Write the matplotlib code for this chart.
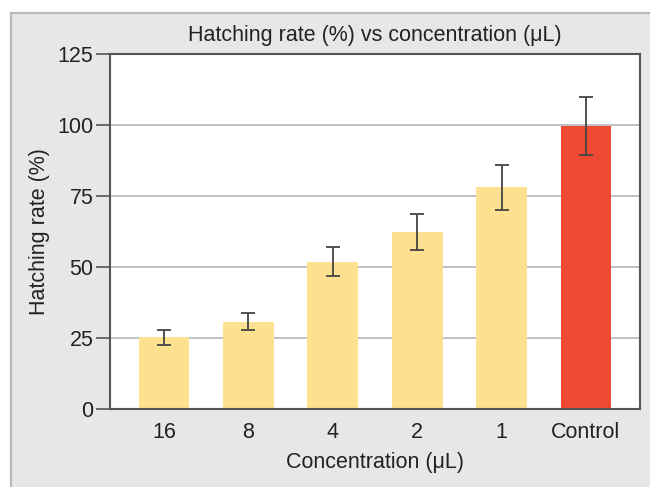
import matplotlib
matplotlib.use("Agg")
import matplotlib.pyplot as plt
from matplotlib.patches import Rectangle

# data
categories = ["16", "8", "4", "2", "1", "Control"]
hatching = [25.2, 30.8, 51.9, 62.4, 78.0, 99.8]
errors = [2.6, 3.1, 5.0, 6.4, 7.8, 10.2]
bar_colors = ["#fde191", "#fde191", "#fde191", "#fde191", "#fde191", "#ef4934"]
y_ticks = [0, 25, 50, 75, 100, 125]

plt.rcParams['font.family'] = ['Liberation Sans', 'DejaVu Sans']

fig = plt.figure(figsize=(6.5, 4.87), dpi=100)
fig.patch.set_facecolor("white")

# grey panel behind the chart, open on the right and bottom
panel = Rectangle((11 / 650, -0.1), 1.2, 1 - 13 / 487 + 0.1,
                  transform=fig.transFigure, facecolor="#e6e7e8",
                  edgecolor="#b8b9bb", linewidth=1.6, zorder=-10)
fig.patches.append(panel)

ax = fig.add_axes([110 / 650, 1 - 409 / 487, 530 / 650, 355 / 487])
ax.set_facecolor("white")

x = range(len(categories))
ax.bar(x, hatching, width=0.6, color=bar_colors, zorder=2)
ax.errorbar(x, hatching, yerr=errors, fmt="none", ecolor="#444444",
            elinewidth=1.3, capsize=5, capthick=1.3, zorder=3)

ax.set_xlim(-0.64, 5.64)
ax.set_ylim(0, 125)
ax.set_yticks(y_ticks)
ax.set_xticks(list(x))
ax.set_xticklabels(categories)

ax.yaxis.grid(True, color="#b4b4ba", linewidth=1.2, zorder=1)
ax.set_axisbelow(True)

for s in ax.spines.values():
    s.set_color("#555555")
    s.set_linewidth(1.5)

ax.tick_params(axis="y", length=10, width=1.2, color="#555555",
               labelsize=15.5, labelcolor="#222222", pad=2)
ax.tick_params(axis="x", length=0, labelsize=15.5, labelcolor="#222222", pad=9)

ax.set_title("Hatching rate (%) vs concentration (μL)", fontsize=15.5,
             color="#222222", pad=9)
ax.set_xlabel("Concentration (μL)", fontsize=15.5, color="#222222", labelpad=7)
ax.set_ylabel("Hatching rate (%)", fontsize=15.5, color="#222222", labelpad=5)

fig.savefig("out.png", dpi=100)
